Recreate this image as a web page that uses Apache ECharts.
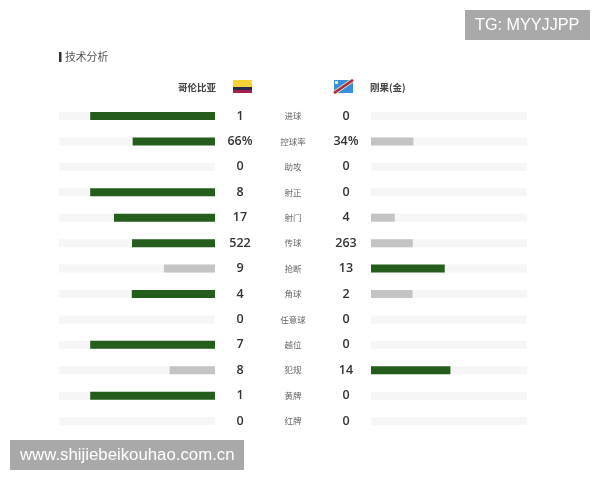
<!DOCTYPE html>
<html><head><meta charset="utf-8">
<style>html,body{margin:0;padding:0;background:#fff}#c{width:600px;height:480px}</style>
<script src="https://cdn.jsdelivr.net/npm/echarts@6/dist/echarts.min.js"></script>
</head><body><div id="c"></div>
<script>
const categories = ['进球','控球率','助攻','射正','射门','传球','抢断','角球','任意球','越位','犯规','黄牌','红牌'];
const homeValues = [1,66,0,8,17,522,9,4,0,7,8,1,0];
const awayValues = [0,34,0,0,4,263,13,2,0,0,14,0,0];
const homeLabels = ['1','66%','0','8','17','522','9','4','0','7','8','1','0'];
const awayLabels = ['0','34%','0','0','4','263','13','2','0','0','14','0','0'];
const homeName = '哥伦比亚';
const awayName = '刚果(金)';
const panelTitle = '技术分析';
const topMark = 'TG: MYYJJPP';
const bottomMark = 'www.shijiebeikouhao.com.cn';

const cjk = '"Noto Sans CJK SC","Noto Sans",sans-serif';
const num = '"Open Sans","Noto Sans",sans-serif';
const GREEN = '#255e1c', GREY = '#c4c4c4', TRACK = '#f6f6f6';
const share = (a, b) => (a + b) ? a / (a + b) : 0;
const barData = (mine, other) => mine.map((v, i) => ({
  value: share(v, other[i]),
  itemStyle: { color: v > other[i] ? GREEN : GREY }
}));
const gridTop = 103.3, gridHeight = 330.5;
const barSeries = (x, y, data) => ({
  type: 'bar', xAxisIndex: x, yAxisIndex: y, data, barWidth: 8, silent: true,
  showBackground: true, backgroundStyle: { color: TRACK }, animation: false
});
const catAxis = (grid, pos, labels, extra) => Object.assign({
  type: 'category', gridIndex: grid, position: pos, inverse: true, data: labels,
  axisLine: { show: false }, axisTick: { show: false }, splitLine: { show: false }
}, extra);
const numLabel = { interval: 0, margin: 25, align: 'center', padding: [2, 0, 0, 0], fontFamily: num, fontWeight: 600, fontSize: 12.5, color: '#333' };

const chart = echarts.init(document.getElementById('c'), null, { renderer: 'canvas' });
chart.setOption({
  backgroundColor: '#fff',
  animation: false,
  grid: [
    { left: 59, width: 156, top: gridTop, height: gridHeight },
    { left: 371, width: 156, top: gridTop, height: gridHeight }
  ],
  xAxis: [
    { type: 'value', gridIndex: 0, inverse: true, min: 0, max: 1.25, show: false },
    { type: 'value', gridIndex: 1, min: 0, max: 1.25, show: false }
  ],
  yAxis: [
    catAxis(0, 'right', homeLabels, { axisLabel: numLabel }),
    catAxis(1, 'left', awayLabels, { axisLabel: numLabel }),
    catAxis(0, 'right', categories, { offset: 78, axisLabel: { interval: 0, margin: 0, align: 'center', padding: [0, 0, 2, 0], fontFamily: cjk, fontSize: 8.5, color: '#666' } })
  ],
  series: [
    barSeries(0, 0, barData(homeValues, awayValues)),
    barSeries(1, 1, barData(awayValues, homeValues))
  ],
  graphic: [
    { type: 'rect', shape: { x: 59, y: 52, width: 2.5, height: 10 }, style: { fill: '#333' } },
    { type: 'text', x: 65, y: 57, style: { text: panelTitle, font: '10.8px ' + cjk, fill: '#555', verticalAlign: 'middle' } },
    { type: 'text', x: 216, y: 87, style: { text: homeName, font: 'bold 9.5px ' + cjk, fill: '#444', align: 'right', verticalAlign: 'middle' } },
    { type: 'text', x: 370, y: 87, style: { text: awayName, font: 'bold 9.5px ' + cjk, fill: '#444', verticalAlign: 'middle' } },
    { type: 'rect', shape: { x: 233, y: 80, width: 19, height: 7 }, style: { fill: '#f5d235' } },
    { type: 'rect', shape: { x: 233, y: 87, width: 19, height: 3 }, style: { fill: '#2b2a4c' } },
    { type: 'rect', shape: { x: 233, y: 90, width: 19, height: 3 }, style: { fill: '#a3214f' } },
    { type: 'rect', shape: { x: 334, y: 80, width: 19, height: 13 }, style: { fill: '#3a8fdc' } },
    { type: 'line', shape: { x1: 334, y1: 93, x2: 353, y2: 80 }, style: { stroke: '#f3e3a0', lineWidth: 4 } },
    { type: 'line', shape: { x1: 334, y1: 93, x2: 353, y2: 80 }, style: { stroke: '#a32a4d', lineWidth: 2.5 } },
    { type: 'rect', shape: { x: 335, y: 81, width: 3, height: 3 }, style: { fill: '#f3e3a0' } },
    { type: 'rect', shape: { x: 465, y: 10, width: 125, height: 30 }, style: { fill: '#a9a9a9' } },
    { type: 'text', x: 475, y: 25.5, style: { text: topMark, font: '16.2px "Liberation Sans",sans-serif', fill: '#fff', verticalAlign: 'middle' } },
    { type: 'rect', shape: { x: 10, y: 440, width: 234, height: 30 }, style: { fill: '#a9a9a9' } },
    { type: 'text', x: 20, y: 455, style: { text: bottomMark, font: '16.8px "Liberation Sans",sans-serif', fill: '#fff', verticalAlign: 'middle' } }
  ]
});
</script></body></html>
